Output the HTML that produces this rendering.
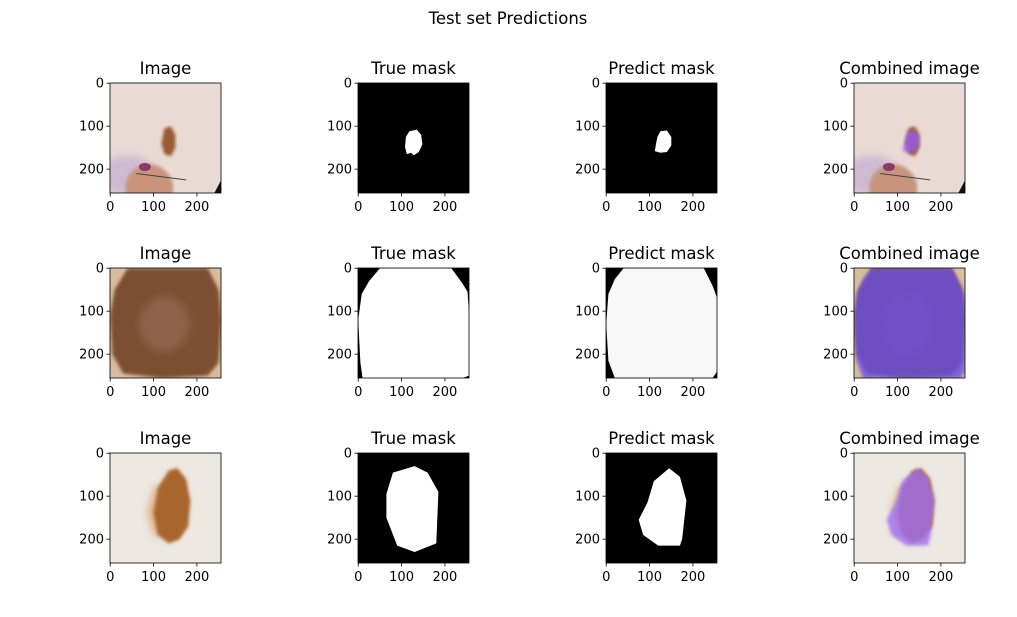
<!DOCTYPE html>
<html><head><meta charset="utf-8"><style>
body{margin:0;background:#fff}
svg text{font-family:"DejaVu Sans","Liberation Sans",sans-serif;fill:#000}
</style></head><body>
<svg id="fig" width="1017" height="612" viewBox="0 0 1017 612" xmlns="http://www.w3.org/2000/svg">
<defs>
<filter id="blur" x="-20%" y="-20%" width="140%" height="140%"><feGaussianBlur stdDeviation="1.5"/></filter>
<filter id="blur4" x="-20%" y="-20%" width="140%" height="140%"><feGaussianBlur stdDeviation="4"/></filter>
</defs>
<text x="508" y="24" font-size="16.5" text-anchor="middle">Test set Predictions</text>
</svg>
<script>
const colTitles=["Image","True mask","Predict mask","Combined image"];
const colX=[110,358,606,854];
const rowY=[83,268,453];
const tickValues=[0,100,200];
const imgSize=256;
const bgColors=["#e9dbd3","#d9bc9f","#ede8e1"];
const lesionColors=["#9a5a32","#7d4f33","#a9652f"];
const overlayColors=["#9a5cf2","#6b4fe6","#a070f5"];
const trueMasks=[
 [[118,112],[135,108],[145,120],[148,142],[140,160],[128,168],[122,162],[112,165],[108,148],[110,125]],
 [[50,0],[215,0],[240,35],[252,55],[256,110],[256,250],[240,256],[10,256],[5,220],[0,120],[8,60],[25,30]],
 [[80,45],[130,30],[160,45],[185,90],[180,210],[130,230],[90,215],[65,150],[65,95]]
];
const predMasks=[
 [[125,112],[140,110],[150,125],[150,145],[140,160],[125,162],[112,158],[115,140],[118,125]],
 [[40,0],[225,0],[245,40],[256,70],[256,240],[245,256],[20,256],[5,215],[0,130],[5,60],[20,25]],
 [[145,35],[170,55],[185,110],[175,200],[170,215],[120,215],[85,190],[75,155],[95,115],[110,65]]
];
const lesionShapes=[
 [[125,105],[140,100],[150,120],[150,150],[140,170],[125,165],[118,140]],
 [[40,0],[225,0],[250,50],[256,120],[250,220],[225,250],[120,256],[30,245],[5,200],[0,110],[10,50]],
 [[135,40],[155,35],[175,60],[185,110],[180,170],[160,200],[135,210],[110,190],[100,140],[110,80]]
];
const fig=document.getElementById('fig');
const NS="http://www.w3.org/2000/svg";
const W=111,H=110;
function sx(c,v){return colX[c]+(v+0.5)/imgSize*W;}
function sy(r,v){return rowY[r]+(v+0.5)/imgSize*H;}
function mk(tag,attrs,parent){const e=document.createElementNS(NS,tag);for(const k in attrs)e.setAttribute(k,attrs[k]);(parent||fig).appendChild(e);return e;}
function polyPts(r,c,arr){return arr.map(p=>sx(c,p[0]).toFixed(1)+","+sy(r,p[1]).toFixed(1)).join(" ");}
function drawImage(r,c,g,combined){
 mk('rect',{x:colX[c],y:rowY[r],width:W,height:H,fill:bgColors[r]},g);
 if(r===0){
  mk('ellipse',{cx:sx(c,40),cy:sy(r,215),rx:30,ry:20,fill:'#b49ad0',opacity:0.5,filter:'url(#blur4)'},g);
  mk('circle',{cx:sx(c,90),cy:sy(r,245),r:24,fill:'#c8947c',filter:'url(#blur)'},g);
  mk('ellipse',{cx:sx(c,80),cy:sy(r,195),rx:6,ry:4,fill:'#8a3a6a'},g);
  mk('line',{x1:sx(c,60),y1:sy(r,210),x2:sx(c,175),y2:sy(r,225),stroke:'#444','stroke-width':1},g);
  mk('polygon',{points:polyPts(r,c,[[240,256],[256,225],[256,256]]),fill:'#111'},g);
 }
 if(r===2){
  mk('polygon',{points:polyPts(r,c,[[100,80],[140,70],[140,200],[100,190],[85,140]]),fill:'#d8a470',opacity:0.8,filter:'url(#blur4)'},g);
 }
 mk('polygon',{points:polyPts(r,c,lesionShapes[r]),fill:lesionColors[r],filter:'url(#blur)'},g);
 if(r===1) mk('ellipse',{cx:sx(c,125),cy:sy(r,130),rx:25,ry:28,fill:'#a07560',opacity:0.5,filter:'url(#blur4)'},g);
 if(combined){
  const p=mk('polygon',{points:polyPts(r,c,predMasks[r]),fill:overlayColors[r],opacity:0.8,filter:'url(#blur)'},g);
  
  
 }
}
for(let r=0;r<3;r++){
 for(let c=0;c<4;c++){
  const g=mk('g',{});
  
  
  const cp=mk('clipPath',{id:'cp'+r+c},g);
  mk('rect',{x:colX[c],y:rowY[r],width:W,height:H},cp);
  const ig=mk('g',{'clip-path':'url(#cp'+r+c+')'},g);
  if(c===0) drawImage(r,c,ig,false);
  else if(c===3) drawImage(r,c,ig,true);
  else{
   mk('rect',{x:colX[c],y:rowY[r],width:W,height:H,fill:'#000'},ig);
   const m=mk('polygon',{points:polyPts(r,c,c===1?trueMasks[r]:predMasks[r]),fill:c===2&&r===1?'#f8f8f8':'#fff'},ig);
   
   
  }
  mk('rect',{x:colX[c],y:rowY[r],width:W,height:H,fill:'none',stroke:'#000','stroke-width':0.8},g);
  const t=mk('text',{x:colX[c]+W/2,y:rowY[r]-9,'font-size':16.5,'text-anchor':'middle'},g);
  t.textContent=colTitles[c];
  
  
  for(const v of tickValues){
   const x=sx(c,v),y=sy(r,v);
   mk('line',{x1:x,y1:rowY[r]+H,x2:x,y2:rowY[r]+H+3.5,stroke:'#000','stroke-width':0.8},g);
   const tx=mk('text',{x:x,y:rowY[r]+H+18,'font-size':13,'text-anchor':'middle'},g);
   tx.textContent=v;
   
   
   mk('line',{x1:colX[c]-3.5,y1:y,x2:colX[c],y2:y,stroke:'#000','stroke-width':0.8},g);
   const ty=mk('text',{x:colX[c]-6,y:y+4.5,'font-size':13,'text-anchor':'end'},g);
   ty.textContent=v;
   
   
  }
 }
}
</script>
</body></html>
